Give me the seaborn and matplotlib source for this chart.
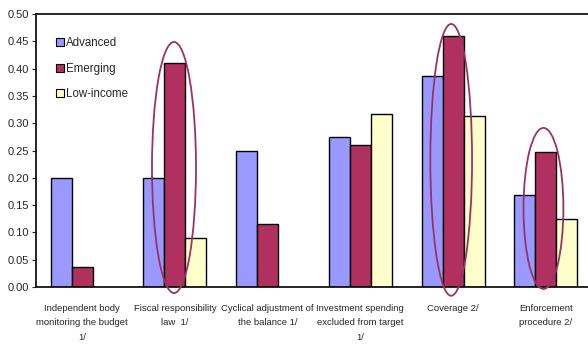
import pandas as pd
import matplotlib.pyplot as plt
import seaborn as sns
from matplotlib.patches import Ellipse
from matplotlib.lines import Line2D

categories = [
    "Independent body\nmonitoring the budget\n1/",
    "Fiscal responsibility\nlaw  1/",
    "Cyclical adjustment of\nthe balance 1/",
    "Investment spending\nexcluded from target\n1/",
    "Coverage 2/",
    "Enforcement\nprocedure 2/",
]
groups = ["Advanced", "Emerging", "Low-income"]
advanced = [0.200, 0.200, 0.250, 0.275, 0.387, 0.168]
emerging = [0.036, 0.410, 0.116, 0.260, 0.460, 0.247]
low_income = [None, 0.090, None, 0.317, 0.313, 0.124]

colors = ["#9999FF", "#B03060", "#FFFFCC"]

rows = []
for g, vals in zip(groups, [advanced, emerging, low_income]):
    for c, v in zip(categories, vals):
        rows.append({"cat": c, "group": g, "value": v})
df = pd.DataFrame(rows)

sns.set_style("white")
plt.rcParams['font.family'] = ['Liberation Sans', 'DejaVu Sans']

fig = plt.figure(figsize=(5.88, 3.45), dpi=100)
ax = fig.add_axes([0.061, 0.168, 0.946, 0.791])

sns.barplot(data=df, x="cat", y="value", hue="group", order=categories,
            hue_order=groups, palette=colors, saturation=1, width=0.68,
            edgecolor="black", linewidth=1, ax=ax, legend=False)

ax.set_ylim(0, 0.5)
ax.set_xlim(-0.5, 5.5)
ax.set_yticks([i * 0.05 for i in range(11)])
ax.set_yticklabels([f"{i * 0.05:.2f}" for i in range(11)], fontsize=8)
ax.set_xticks(range(len(categories)))
ax.set_xticklabels(categories, fontsize=6.8, linespacing=1.8)
ax.tick_params(axis="x", length=0, pad=12)
ax.set_xticks([i - 0.5 for i in range(len(categories) + 1)], minor=True)
ax.tick_params(axis="x", which="minor", length=4, direction="out", color="#555555")
ax.tick_params(axis="y", length=3, direction="out", left=True, pad=2)
ax.set_xlabel("")
ax.set_ylabel("")
for s in ["left", "bottom", "top"]:
    ax.spines[s].set_color("black")
    ax.spines[s].set_linewidth(1.2)
ax.spines["right"].set_visible(False)

# highlight ellipses
for xc, yc, w, h in [(0.99, 0.219, 0.475, 0.46),
                     (3.98, 0.233, 0.45, 0.498),
                     (4.975, 0.144, 0.43, 0.295)]:
    ax.add_patch(Ellipse((xc, yc), w, h, fill=False, edgecolor="#993366",
                         linewidth=1.3, clip_on=False, zorder=5))

handles = [Line2D([], [], marker="s", linestyle="", markersize=6,
                  markerfacecolor=c, markeredgecolor="black", markeredgewidth=0.8)
           for c in colors]
ax.legend(handles, groups, loc="upper left", bbox_to_anchor=(0.014, 0.955),
          frameon=False, fontsize=8.3, handletextpad=0.05, labelspacing=1.2,
          handlelength=1.0)

fig.savefig("out.png", dpi=100)
